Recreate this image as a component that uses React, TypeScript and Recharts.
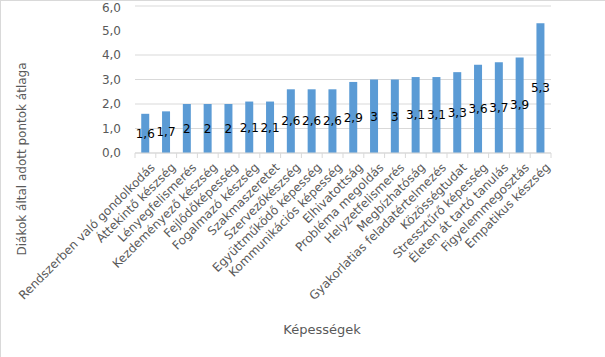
import { Bar, BarChart, CartesianGrid, LabelList, XAxis, YAxis } from 'recharts'

const categories = [
  'Rendszerben való gondolkodás',
  'Áttekintő készség',
  'Lényegfelismerés',
  'Kezdeményező készség',
  'Fejlődőképesség',
  'Fogalmazó készség',
  'Szakmaszeretet',
  'Szervezőkészség',
  'Együttműködő képesség',
  'Kommunikációs képesség',
  'Elhivatottság',
  'Probléma megoldás',
  'Helyzetfelismerés',
  'Megbízhatóság',
  'Gyakorlatias feladatértelmezés',
  'Közösségtudat',
  'Stressztűrő képesség',
  'Életen át tartó tanulás',
  'Figyelemmegosztás',
  'Empatikus készség',
]

const averages = [1.6, 1.7, 2, 2, 2, 2.1, 2.1, 2.6, 2.6, 2.6, 2.9, 3, 3, 3.1, 3.1, 3.3, 3.6, 3.7, 3.9, 5.3]

const yTicks = [0, 1, 2, 3, 4, 5, 6]

const W = 605
const H = 357
const MARGIN = { top: 6, right: 54, bottom: 0, left: 0 }
const Y_AXIS_W = 135
const PLOT_W = W - MARGIN.right - Y_AXIS_W
const GREY = '#595959'
const LINE = '#d9d9d9'
const FONT = '"DejaVu Sans", Verdana, sans-serif'

const comma = (v: number, digits?: number) =>
  (digits != null ? v.toFixed(digits) : String(v)).replace('.', ',')

function CategoryTick(props: any) {
  const { x, y, payload, index } = props
  const band = PLOT_W / categories.length
  const axisY = y - 8
  const left = x - band / 2
  const tx = x + 4
  const ty = y + 1
  return (
    <g>
      <line x1={left} y1={axisY} x2={left} y2={axisY + 5} stroke={LINE} />
      {index === categories.length - 1 && (
        <line x1={left + band} y1={axisY} x2={left + band} y2={axisY + 5} stroke={LINE} />
      )}
      <text
        x={tx}
        y={ty}
        textAnchor="end"
        dominantBaseline="hanging"
        transform={`rotate(-45, ${tx}, ${ty})`}
        fontSize={12}
        fill={GREY}
        fontFamily={FONT}
      >
        {payload.value}
      </text>
    </g>
  )
}

export default function App() {
  const data = categories.map((name, i) => ({ name, value: averages[i] }))

  return (
    <div
      style={{
        position: 'absolute',
        left: 0,
        top: 0,
        width: W,
        height: H,
        background: '#fff',
        borderTop: `1px solid ${LINE}`,
        borderLeft: `1px solid ${LINE}`,
        boxSizing: 'border-box',
        fontFamily: FONT,
      }}
    >
      <div style={{ position: 'absolute', left: -1, top: -1 }}>
        <BarChart width={W} height={H} data={data} margin={MARGIN} barCategoryGap="30%">
          <CartesianGrid vertical={false} stroke={LINE} />
          <XAxis
            dataKey="name"
            interval={0}
            height={H - MARGIN.top - 147}
            axisLine={{ stroke: LINE }}
            tickLine={false}
            tick={<CategoryTick />}
            label={{
              content: () => (
                <text x={322} y={334} textAnchor="middle" fontSize={13} fill={GREY} fontFamily={FONT}>
                  Képességek
                </text>
              ),
            }}
          />
          <YAxis
            width={Y_AXIS_W}
            domain={[0, 6]}
            ticks={yTicks}
            axisLine={false}
            tickLine={false}
            tickMargin={8}
            tickFormatter={(v) => comma(v, 1)}
            tick={{ fill: GREY, fontSize: 12, fontFamily: FONT }}
            label={{
              content: () => (
                <text
                  x={26}
                  y={159}
                  textAnchor="middle"
                  transform="rotate(-90, 26, 159)"
                  fontSize={12}
                  fill={GREY}
                  fontFamily={FONT}
                >
                  Diákok által adott pontok átlaga
                </text>
              ),
            }}
          />
          <Bar dataKey="value" fill="#5B9BD5" isAnimationActive={false}>
            <LabelList
              dataKey="value"
              position="center"
              fill="#000"
              fontSize={12}
              fontFamily={FONT}
              formatter={(v: any) => comma(Number(v))}
            />
          </Bar>
        </BarChart>
      </div>
    </div>
  )
}
